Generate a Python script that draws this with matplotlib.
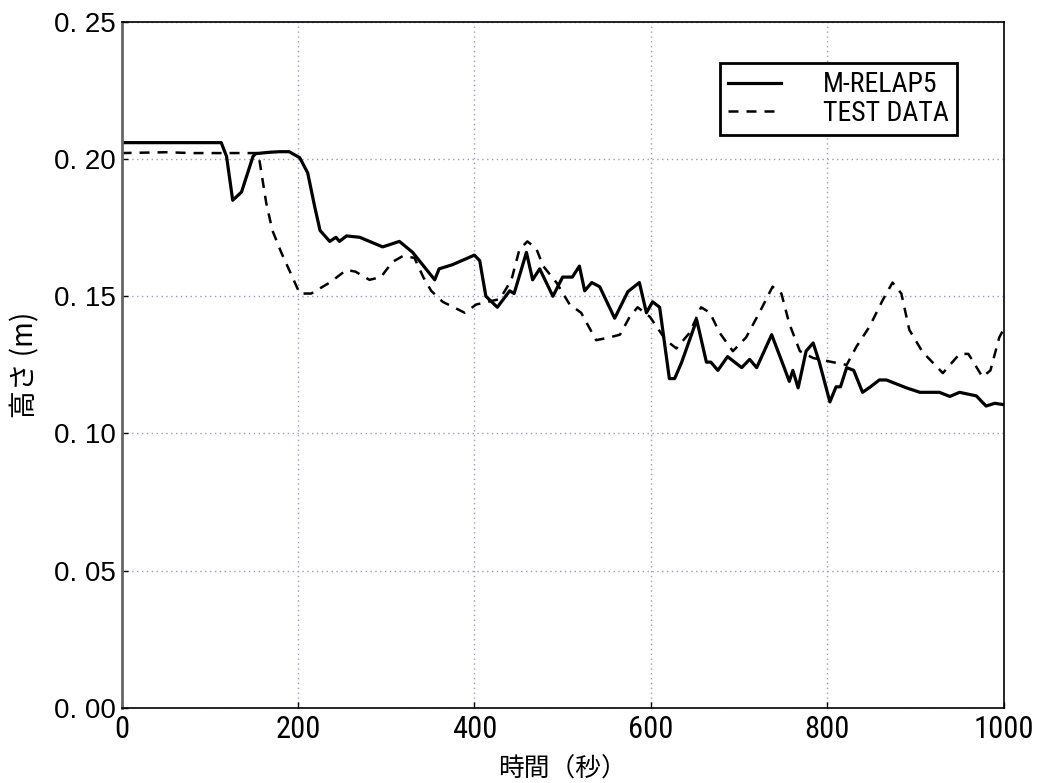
import matplotlib
matplotlib.use('Agg')
import matplotlib.pyplot as plt
from matplotlib.ticker import FuncFormatter

# M-RELAP5 (solid)
relap_t = [0, 113, 119, 126, 136, 149, 152, 168, 179, 190, 202, 211, 219, 225, 236, 243,
           247, 255, 270, 296, 315, 330, 355, 360, 375, 400, 406, 413, 426, 440, 445,
           459, 466, 474, 489, 500, 511, 519, 525, 533, 542, 559, 574, 587, 595, 602,
           610, 621, 627, 635, 652, 663, 668, 676, 687, 703, 712, 720, 737, 750, 757,
           761, 767, 776, 784, 791, 803, 810, 815, 822, 830, 840, 849, 859, 867, 890,
           905, 927, 939, 950, 969, 980, 990, 1000]
relap_h = [0.206, 0.206, 0.201, 0.185, 0.188, 0.201, 0.202, 0.2025, 0.2027, 0.2027, 0.2005,
           0.195, 0.1826, 0.174, 0.170, 0.1715, 0.170, 0.172, 0.1715, 0.168, 0.170, 0.166,
           0.156, 0.160, 0.1615, 0.165, 0.163, 0.150, 0.146, 0.152, 0.151, 0.166, 0.156,
           0.160, 0.150, 0.157, 0.157, 0.161, 0.152, 0.155, 0.1535, 0.142, 0.1517, 0.155,
           0.144, 0.148, 0.146, 0.120, 0.120, 0.126, 0.1414, 0.126, 0.126, 0.123, 0.128,
           0.124, 0.127, 0.124, 0.136, 0.125, 0.119, 0.123, 0.1166, 0.130, 0.133, 0.126,
           0.1115, 0.117, 0.117, 0.124, 0.123, 0.115, 0.117, 0.1195, 0.1195, 0.1166,
           0.115, 0.115, 0.1135, 0.115, 0.1137, 0.110, 0.111, 0.1105]

# TEST DATA (dashed)
test_t = [0, 50, 80, 155, 164, 171, 181, 190, 202, 215, 236, 255, 265, 281, 294, 307, 319,
          332, 342, 351, 364, 389, 402, 429, 442, 451, 460, 470, 478, 493, 508, 521, 538,
          553, 565, 576, 585, 599, 617, 629, 644, 657, 667, 678, 693, 708, 723, 738, 748,
          757, 769, 784, 806, 822, 833, 848, 863, 874, 884, 893, 908, 920, 931, 950, 960,
          976, 985, 995, 1000]
test_h = [0.2022, 0.2025, 0.2022, 0.2022, 0.184, 0.174, 0.166, 0.1596, 0.151, 0.151, 0.155,
          0.1596, 0.159, 0.156, 0.157, 0.1625, 0.1647, 0.164, 0.157, 0.152, 0.148, 0.144,
          0.147, 0.149, 0.156, 0.167, 0.170, 0.1675, 0.161, 0.155, 0.147, 0.144, 0.134,
          0.135, 0.136, 0.1425, 0.146, 0.1425, 0.134, 0.131, 0.1367, 0.146, 0.144, 0.1367,
          0.130, 0.135, 0.144, 0.1535, 0.151, 0.140, 0.130, 0.1275, 0.126, 0.125, 0.1316,
          0.139, 0.1487, 0.155, 0.151, 0.1378, 0.1297, 0.1257, 0.122, 0.129, 0.129, 0.1206,
          0.123, 0.135, 0.138]

x_ticks = [0, 200, 400, 600, 800, 1000]
y_ticks = [0.00, 0.05, 0.10, 0.15, 0.20, 0.25]
series_labels = ['M-RELAP5', 'TEST DATA']

cjk = ['Noto Sans CJK JP', 'DejaVu Sans']
narrow = ['Roboto Condensed', 'DejaVu Sans']

fig = plt.figure(figsize=(10.39, 7.83), dpi=100)
ax = fig.add_axes([0.117, 0.096, 0.849, 0.876])

ax.plot(relap_t, relap_h, color='black', linewidth=2.3, label=series_labels[0])
ax.plot(test_t, test_h, color='black', linewidth=1.8, dashes=(4, 3.2), label=series_labels[1])

ax.set_xlim(0, 1000)
ax.set_ylim(0, 0.25)
ax.set_xticks(x_ticks, labels=[str(v) for v in x_ticks], fontfamily=narrow, fontsize=22)
ax.set_yticks(y_ticks)
ax.yaxis.set_major_formatter(FuncFormatter(lambda v, p: '{:.2f}'.format(v).replace('.', '. ')))

ax.grid(True, color='#9a9ac8', linestyle=(0, (1, 2.5)), linewidth=1.0)
ax.tick_params(direction='in', length=4, width=1)
ax.tick_params(axis='x', pad=5)
ax.tick_params(axis='y', pad=4, labelsize=20, labelfontfamily='Liberation Sans')

ax.spines['left'].set_color('#666666')
ax.spines['left'].set_linewidth(2)
for s in ['top', 'right', 'bottom']:
    ax.spines[s].set_linewidth(1.2)

ax.set_xlabel('時間（秒）', fontfamily=cjk, fontsize=18.5, labelpad=9)
ax.set_ylabel('高さ (m)', fontfamily=cjk, fontsize=20, labelpad=10)

leg = ax.legend(loc='upper right', bbox_to_anchor=(0.947, 0.940), borderaxespad=0,
                fancybox=False, edgecolor='black', framealpha=1, handlelength=1.9,
                handletextpad=1.5, borderpad=0.3, labelspacing=0.05,
                prop={'family': narrow, 'size': 20})
leg.get_frame().set_linewidth(2)

fig.savefig('out.png', dpi=100)
